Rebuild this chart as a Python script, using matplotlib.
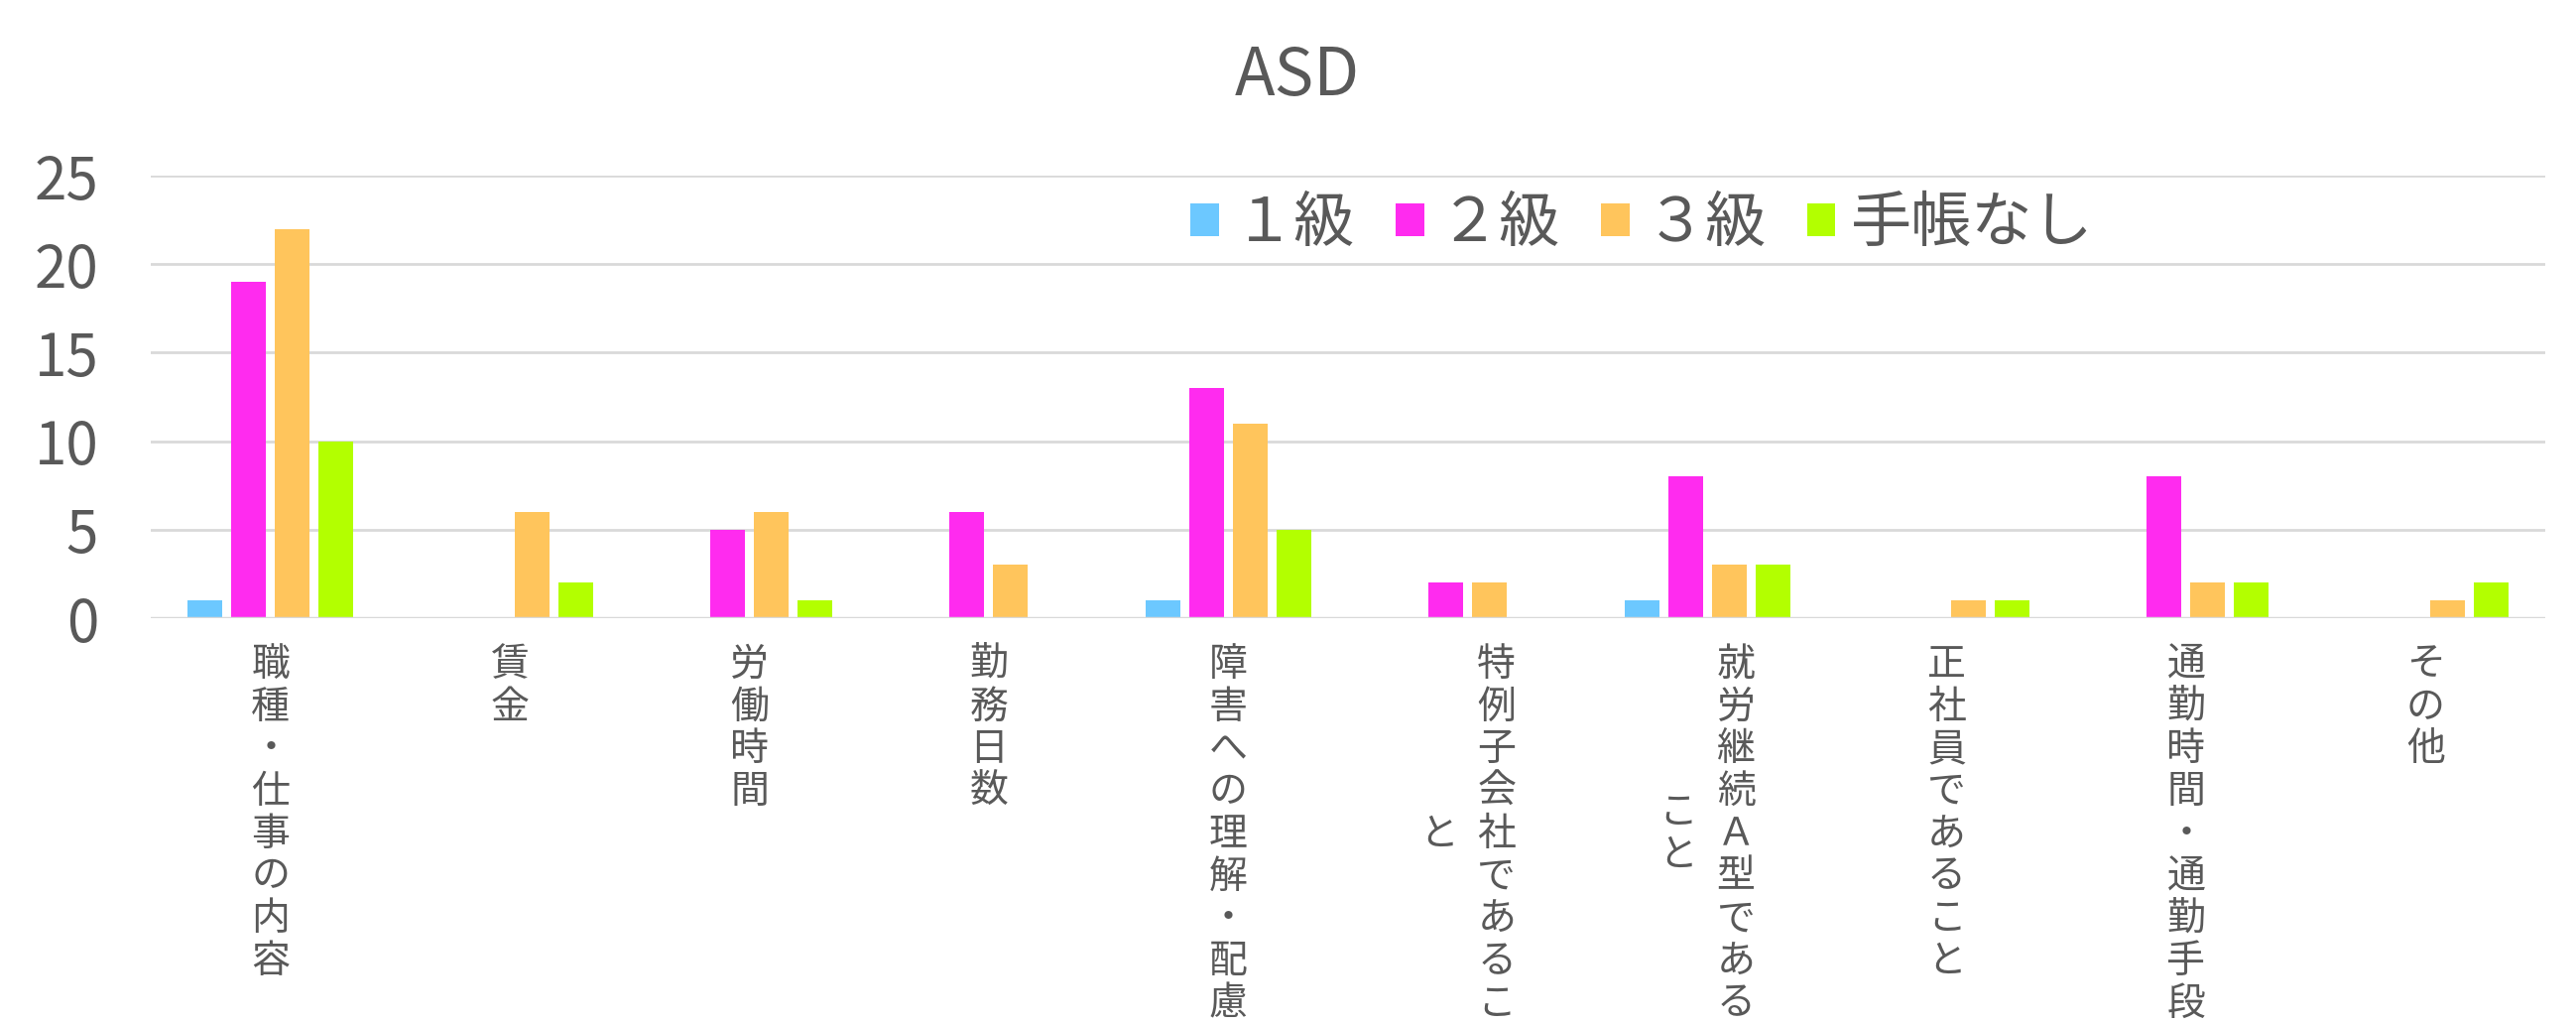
import numpy as np
import matplotlib
matplotlib.use('Agg')
import matplotlib.pyplot as plt

plt.rcParams['font.family'] = ['Noto Sans CJK JP', 'DejaVu Sans']

# data
categories = ['職種・仕事の内容', '賃金', '労働時間', '勤務日数', '障害への理解・配慮',
              '特例子会社であること', '就労継続Ａ型であること', '正社員であること',
              '通勤時間・通勤手段', 'その他']
series_names = ['１級', '２級', '３級', '手帳なし']
grade1 = [1, 0, 0, 0, 1, 0, 1, 0, 0, 0]
grade2 = [19, 0, 5, 6, 13, 2, 8, 0, 8, 0]
grade3 = [22, 6, 6, 3, 11, 2, 3, 1, 2, 1]
no_book = [10, 2, 1, 0, 5, 0, 3, 1, 2, 2]
yticks = [0, 5, 10, 15, 20, 25]

colors = ['#6CC8FF', '#FF2BEF', '#FFC55C', '#B3FF00']
textcolor = '#595959'
W, H = 2597, 1032

fig = plt.figure(figsize=(W / 100, H / 100), dpi=100)
ax = fig.add_axes([152 / W, 1 - 623 / H, (2566 - 152) / W, (623 - 177) / H])

x = np.arange(len(categories))
barwidth = 0.145
pitch = 0.182
for k, (name, vals) in enumerate(zip(series_names, [grade1, grade2, grade3, no_book])):
    ax.bar(x + (k - 1.5) * pitch, vals, width=barwidth, color=colors[k], label=name, zorder=3)

ax.set_xlim(-0.5, len(categories) - 0.5)
ax.set_ylim(0, 25)
ax.set_yticks(yticks)
ax.set_xticks([])
ax.yaxis.grid(True, color='#D9D9D9', linewidth=2, zorder=0)
for s in ax.spines.values():
    s.set_visible(False)
ax.axhline(0, color='#D9D9D9', linewidth=2.5, zorder=4)
ax.tick_params(axis='y', length=0, pad=38, labelsize=42, labelcolor=textcolor)

# vertical (stacked) category labels, wrap after 9 chars, columns right to left
maxchars = 9
line_px = 42.7
col_px = 58
first_px = 47
for i, lab in enumerate(categories):
    cols = [lab[j:j + maxchars] for j in range(0, len(lab), maxchars)]
    nmax = max(len(c) for c in cols)
    for k, col in enumerate(cols):
        dx = ((len(cols) - 1) / 2 - k) * col_px
        shift = (nmax - len(col)) / 2
        for r, ch in enumerate(col):
            dy = -(first_px + (r + shift) * line_px)
            ax.annotate(ch, xy=(i, 0), xycoords=('data', 'axes fraction'),
                        xytext=(dx, dy), textcoords='offset pixels',
                        ha='center', va='center', fontsize=28, color=textcolor,
                        annotation_clip=False)

fig.text(1308 / W, 1 - 77 / H, 'ASD', ha='center', va='center', fontsize=48, color=textcolor)

ax.legend(ncol=4, frameon=False, loc='center', bbox_to_anchor=(1655 / W, 1 - 226 / H),
          bbox_transform=fig.transFigure, fontsize=44, labelcolor=textcolor,
          handlelength=0.47, handleheight=0.47, handletextpad=0.25, columnspacing=0.67,
          borderpad=0)

fig.savefig('out.png', dpi=100, facecolor='white')
